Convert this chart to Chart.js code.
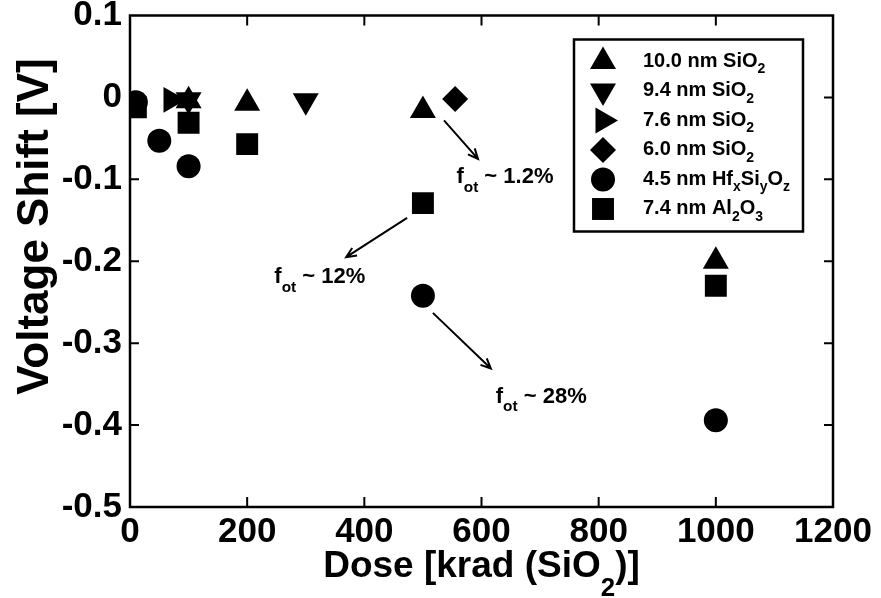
<!DOCTYPE html>
<html>
<head>
<meta charset="utf-8">
<script src="https://cdn.jsdelivr.net/npm/chart.js@4.4.1/dist/chart.umd.min.js"></script>
<style>
  html, body { margin: 0; padding: 0; background: #fff; }
  #wrap { width: 881px; height: 598px; position: relative; }
</style>
</head>
<body>
<div id="wrap"><canvas id="myChart"></canvas></div>
<script>
// oxide series, dose in krad(SiO2), shift in volts
const seriesNames = ['10.0 nm SiO_2', '9.4 nm SiO_2', '7.6 nm SiO_2', '6.0 nm SiO_2', '4.5 nm Hf_xSi_yO_z', '7.4 nm Al_2O_3'];

const dose100 = [100, 200, 500, 1000];
const shift100 = [-0.004, -0.007, -0.016, -0.200];
const dose94 = [100, 300];
const shift94 = [-0.003, -0.004];
const dose76 = [70];
const shift76 = [-0.003];
const dose60 = [555];
const shift60 = [-0.002];
const doseHf = [10, 50, 100, 500, 1000];
const shiftHf = [-0.006, -0.053, -0.084, -0.242, -0.394];
const doseAl = [10, 100, 200, 500, 1000];
const shiftAl = [-0.012, -0.031, -0.057, -0.129, -0.230];

const xTicks = [0, 200, 400, 600, 800, 1000, 1200];
const yTicks = [0.1, 0, -0.1, -0.2, -0.3, -0.4, -0.5];

// trapped-charge notes, arrows given as [x0, y0, x1, y1] in data units
const arrows = [[536, -0.028, 594, -0.075], [473, -0.147, 369, -0.195], [517, -0.263, 616, -0.331]];
const notes = ['f_{ot} ~ 1.2%', 'f_{ot} ~ 12%', 'f_{ot} ~ 28%'];
const noteX = [640, 324, 702];
const noteY = [-0.096, -0.218, -0.364];

const markers = [
  { pointStyle: 'triangle', radius: 15, rotation: 0 },
  { pointStyle: 'triangle', radius: 15, rotation: 180 },
  { pointStyle: 'triangle', radius: 15, rotation: 90 },
  { pointStyle: 'rectRot', radius: 13, rotation: 0 },
  { pointStyle: 'circle', radius: 12, rotation: 0 },
  { pointStyle: 'rect', radius: 15.5, rotation: 0 }
];

const FAMILY = '"Liberation Sans", Arial, Helvetica, sans-serif';
const font = s => 'bold ' + s + 'px ' + FAMILY;

function zip(xs, ys) {
  return xs.map((x, i) => ({ x: x, y: ys[i] }));
}

const allX = [dose100, dose94, dose76, dose60, doseHf, doseAl];
const allY = [shift100, shift94, shift76, shift60, shiftHf, shiftAl];

const datasets = seriesNames.map((name, i) => ({
  label: name,
  data: zip(allX[i], allY[i]),
  pointStyle: markers[i].pointStyle,
  pointRadius: markers[i].radius,
  pointRotation: markers[i].rotation,
  backgroundColor: '#000',
  borderColor: '#000',
  borderWidth: 0,
  showLine: false
}));

// text with _x or _{xy} subscripts
function parseRich(str) {
  const parts = [];
  let i = 0, buf = '';
  while (i < str.length) {
    if (str[i] === '_') {
      if (buf) { parts.push({ t: buf, sub: false }); buf = ''; }
      if (str[i + 1] === '{') {
        const j = str.indexOf('}', i);
        parts.push({ t: str.slice(i + 2, j), sub: true });
        i = j + 1;
      } else {
        parts.push({ t: str[i + 1], sub: true });
        i += 2;
      }
    } else {
      buf += str[i];
      i++;
    }
  }
  if (buf) parts.push({ t: buf, sub: false });
  return parts;
}

function drawRich(ctx, str, x, y, size, align, subScale, subDrop) {
  const parts = parseRich(str);
  let w = 0;
  parts.forEach(p => {
    ctx.font = font(p.sub ? size * subScale : size);
    p.w = ctx.measureText(p.t).width;
    w += p.w;
  });
  let cx = align === 'center' ? x - w / 2 : x;
  ctx.textAlign = 'left';
  ctx.textBaseline = 'alphabetic';
  parts.forEach(p => {
    ctx.font = font(p.sub ? size * subScale : size);
    ctx.fillText(p.t, cx, p.sub ? y + size * subDrop : y);
    cx += p.w;
  });
}

function drawArrow(ctx, x0, y0, x1, y1) {
  const a = Math.atan2(y1 - y0, x1 - x0);
  const len = 11, spread = 0.42;
  ctx.beginPath();
  ctx.moveTo(x0, y0);
  ctx.lineTo(x1, y1);
  ctx.moveTo(x1 - len * Math.cos(a - spread), y1 - len * Math.sin(a - spread));
  ctx.lineTo(x1, y1);
  ctx.lineTo(x1 - len * Math.cos(a + spread), y1 - len * Math.sin(a + spread));
  ctx.stroke();
}

function drawMarker(ctx, m, x, y) {
  ctx.fillStyle = '#000';
  Chart.helpers.drawPoint(ctx, { pointStyle: m.pointStyle, radius: m.radius, rotation: m.rotation, borderWidth: 0 }, x, y);
}

const decor = {
  id: 'decor',
  afterDatasetsDraw(chart) {
    const ctx = chart.ctx;
    const area = chart.chartArea;
    const sx = chart.scales.x, sy = chart.scales.y;
    ctx.save();
    ctx.strokeStyle = '#000';
    ctx.fillStyle = '#000';

    // frame
    ctx.lineWidth = 2.5;
    ctx.strokeRect(area.left, area.top, area.right - area.left, area.bottom - area.top);

    // inward ticks on all four sides
    ctx.lineWidth = 2;
    ctx.beginPath();
    xTicks.slice(1, -1).forEach(v => {
      const px = sx.getPixelForValue(v);
      ctx.moveTo(px, area.bottom); ctx.lineTo(px, area.bottom - 10);
      ctx.moveTo(px, area.top); ctx.lineTo(px, area.top + 10);
    });
    yTicks.slice(1, -1).forEach(v => {
      const py = sy.getPixelForValue(v);
      ctx.moveTo(area.left, py); ctx.lineTo(area.left + 9, py);
      ctx.moveTo(area.right, py); ctx.lineTo(area.right - 9, py);
    });
    ctx.stroke();

    // arrows and notes
    ctx.lineWidth = 2;
    arrows.forEach(a => {
      drawArrow(ctx, sx.getPixelForValue(a[0]), sy.getPixelForValue(a[1]),
        sx.getPixelForValue(a[2]), sy.getPixelForValue(a[3]));
    });
    notes.forEach((t, i) => {
      drawRich(ctx, t, sx.getPixelForValue(noteX[i]), sy.getPixelForValue(noteY[i]) + 7, 22, 'center', 0.7, 0.4);
    });

    // legend box
    const lx = area.left + 444, ly = area.top + 24, lw = 229, lh = 192;
    ctx.fillStyle = '#fff';
    ctx.fillRect(lx, ly, lw, lh);
    ctx.lineWidth = 2.5;
    ctx.strokeRect(lx, ly, lw, lh);
    ctx.fillStyle = '#000';
    seriesNames.forEach((name, i) => {
      const cy = ly + 20 + 29.5 * i;
      drawMarker(ctx, markers[i], lx + 29, cy + 2);
      ctx.fillStyle = '#000';
      drawRich(ctx, name, lx + 69, cy + 7, 20, 'left', 0.7, 0.33);
    });

    // axis titles
    ctx.save();
    ctx.translate(area.left - 82, area.top + 211);
    ctx.rotate(-Math.PI / 2);
    ctx.font = font(44);
    ctx.textAlign = 'center';
    ctx.textBaseline = 'alphabetic';
    ctx.fillText('Voltage Shift [V]', 0, 0);
    ctx.restore();

    drawRich(ctx, 'Dose [krad (SiO_2)]', (area.left + area.right) / 2, area.bottom + 70, 37, 'center', 0.7, 0.5);
    ctx.restore();
  }
};

const config = {
  type: 'scatter',
  data: { datasets: datasets },
  options: {
    responsive: true,
    maintainAspectRatio: false,
    animation: false,
    devicePixelRatio: 1,
    layout: { padding: { top: 14, right: 48, left: 0, bottom: 0 } },
    plugins: {
      legend: { display: false },
      tooltip: { enabled: false }
    },
    scales: {
      x: {
        type: 'linear',
        min: 0,
        max: 1200,
        afterBuildTicks: s => { s.ticks = xTicks.map(v => ({ value: v })); },
        afterFit: s => { s.height = 91; s.paddingLeft = 0; s.paddingRight = 0; },
        grid: { display: false, drawTicks: false },
        border: { display: false },
        ticks: {
          color: '#000',
          font: { family: FAMILY, size: 35, weight: 'bold', lineHeight: 1.2 },
          padding: 4,
          maxRotation: 0,
          autoSkip: false,
          callback: v => String(v)
        }
      },
      y: {
        type: 'linear',
        min: -0.5,
        max: 0.1,
        afterBuildTicks: s => { s.ticks = yTicks.map(v => ({ value: v })); },
        afterFit: s => { s.width = 130; s.paddingTop = 0; s.paddingBottom = 0; },
        grid: { display: false, drawTicks: false },
        border: { display: false },
        ticks: {
          color: '#000',
          font: { family: FAMILY, size: 35, weight: 'bold', lineHeight: 1.2 },
          padding: 8,
          autoSkip: false,
          callback: v => String(v)
        }
      }
    }
  },
  plugins: [decor]
};

const myChart = new Chart(document.getElementById('myChart'), config);
</script>
</body>
</html>
